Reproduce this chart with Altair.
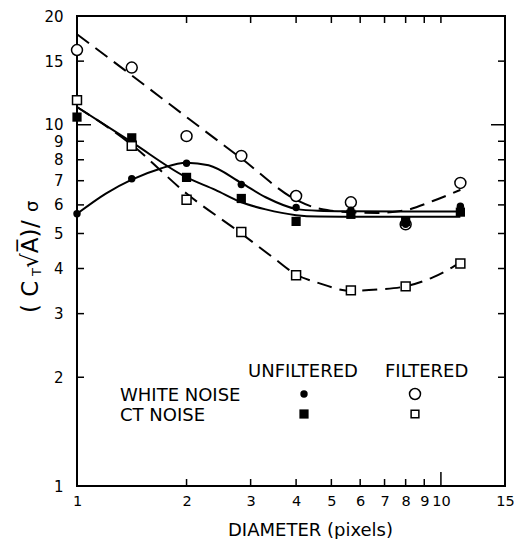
import altair as alt
import pandas as pd

# ---------------- data ----------------
diam = [1, 1.414, 2, 2.828, 4, 5.657, 8, 11.31]
white_unfiltered = [5.67, 7.09, 7.82, 6.83, 5.90, 5.80, 5.30, 5.95]
white_filtered = [16.1, 14.4, 9.3, 8.2, 6.35, 6.1, 5.3, 6.9]
ct_unfiltered = [10.5, 9.2, 7.15, 6.25, 5.4, 5.65, 5.4, 5.73]
ct_filtered = [11.7, 8.75, 6.2, 5.05, 3.83, 3.48, 3.57, 4.13]

# fitted curves
wu_fit_x = [1, 1.2, 1.414, 1.7, 2, 2.3, 2.828, 3.3, 4, 4.6, 5.657, 8, 11.31]
wu_fit_y = [5.67, 6.45, 7.05, 7.57, 7.85, 7.72, 6.9, 6.3, 5.85, 5.78, 5.76, 5.75, 5.75]
wf_fit_x = [1, 1.414, 2, 2.828, 4, 4.5, 5.0, 5.657, 6.7, 8, 9.5, 11.31]
wf_fit_y = [17.8, 13.7, 10.5, 8.07, 6.2, 5.9, 5.78, 5.72, 5.7, 5.8, 6.15, 6.6]
cu_fit_x = [1, 1.414, 2, 2.4, 2.828, 3.3, 4, 4.6, 5.657, 8, 11.31]
cu_fit_y = [11.2, 8.95, 7.15, 6.6, 6.1, 5.83, 5.62, 5.57, 5.56, 5.56, 5.56]
cf_fit_x = [1, 1.414, 2, 2.828, 3.5, 4, 4.6, 5.657, 6.7, 8, 9.5, 11.31]
cf_fit_y = [11.2, 8.8, 6.45, 5.0, 4.25, 3.85, 3.65, 3.47, 3.5, 3.57, 3.78, 4.15]

x_ticks = [1, 2, 3, 4, 5, 6, 7, 8, 9, 10, 15]
y_ticks = [1, 2, 3, 4, 5, 6, 7, 8, 9, 10, 15, 20]
x_minor_inner = [2, 3, 4, 5, 6, 7, 8, 9]
x_major_inner = [10]
y_minor_inner = [2, 3, 4, 5, 6, 7, 8, 9, 15]
y_major_inner = [10]

x_title = "DIAMETER (pixels)"
leg_cols = ["UNFILTERED", "FILTERED"]
leg_rows = ["WHITE NOISE", "CT NOISE"]

# ---------------- layout ----------------
W, H = 428, 470
FONT = "DejaVu Sans"

xs = alt.Scale(type="log", domain=[1, 15], nice=False)
ys = alt.Scale(type="log", domain=[1, 20], nice=False)
xaxis = alt.Axis(values=x_ticks, format="~g", ticks=False, domain=False, grid=False,
                 labelFont=FONT, labelFontSize=14.5, labelColor="black", labelPadding=8,
                 labelFlush=False, labelOverlap=False,
                 titleFont=FONT, titleFontSize=18, titleFontWeight="normal", titleColor="black",
                 titleX=233, titleY=49, titleBaseline="alphabetic", titleAlign="center")
yaxis = alt.Axis(values=y_ticks, format="~g", ticks=False, domain=False, grid=False,
                 labelFont=FONT, labelFontSize=15, labelColor="black", labelPadding=14,
                 labelFlush=False, labelOverlap=False, title=None)

X = alt.X("d:Q", scale=xs, axis=xaxis, title=x_title)
Y = alt.Y("v:Q", scale=ys, axis=yaxis)


def df(xv, yv):
    return pd.DataFrame({"d": xv, "v": yv})


def curve(xv, yv, dashed):
    kw = dict(color="black", strokeWidth=2, interpolate="monotone")
    if dashed:
        kw["strokeDash"] = [15, 8]
    return alt.Chart(df(xv, yv)).mark_line(**kw).encode(x=X, y=Y)


def pts(yv, shape, filled, size):
    if filled:
        m = alt.Chart(df(diam, yv)).mark_point(shape=shape, filled=True, color="black",
                                                size=size, opacity=1)
    else:
        m = alt.Chart(df(diam, yv)).mark_point(shape=shape, filled=True, fill="white",
                                                stroke="black", strokeWidth=1.5,
                                                size=size, opacity=1)
    return m.encode(x=X, y=Y)


one = pd.DataFrame({"k": [0]})

# plot frame
frame = alt.Chart(one).mark_rect(fill="white", stroke="black", strokeWidth=2).encode(
    x=alt.value(0), x2=alt.value(W), y=alt.value(0), y2=alt.value(H))

layers = [
    frame,
    curve(wu_fit_x, wu_fit_y, False),
    curve(cu_fit_x, cu_fit_y, False),
    curve(wf_fit_x, wf_fit_y, True),
    curve(cf_fit_x, cf_fit_y, True),
    pts(white_filtered, "circle", False, 120),
    pts(ct_filtered, "square", False, 80),
    pts(white_unfiltered, "circle", True, 55),
    pts(ct_unfiltered, "square", True, 85),
]

# inward ticks on all four sides
tick_kw = dict(color="black", strokeWidth=1.5)
xd_min = pd.DataFrame({"d": x_minor_inner})
xd_maj = pd.DataFrame({"d": x_major_inner})
yd_min = pd.DataFrame({"v": y_minor_inner})
yd_maj = pd.DataFrame({"v": y_major_inner})
for data, ln in [(xd_min, 7), (xd_maj, 14)]:
    layers.append(alt.Chart(data).mark_rule(**tick_kw).encode(
        x=X, y=alt.value(H), y2=alt.value(H - ln)))
    layers.append(alt.Chart(data).mark_rule(**tick_kw).encode(
        x=X, y=alt.value(0), y2=alt.value(7)))
for data, ln in [(yd_min, 7), (yd_maj, 14)]:
    layers.append(alt.Chart(data).mark_rule(**tick_kw).encode(
        y=Y, x=alt.value(0), x2=alt.value(ln)))
    layers.append(alt.Chart(data).mark_rule(**tick_kw).encode(
        y=Y, x=alt.value(W), x2=alt.value(W - ln)))


def txt(s, x, y, size=18, align="left", angle=0, baseline="alphabetic"):
    kw = dict(font=FONT, fontSize=size, align=align, baseline=baseline, color="black")
    if angle:
        kw["angle"] = angle
    return alt.Chart(one).mark_text(**kw).encode(
        x=alt.value(x), y=alt.value(y), text=alt.value(s))


OX, OY = 77, 16
# legend block
layers += [
    txt(leg_cols[0], 248 - OX, 377 - OY),
    txt(leg_cols[1], 385 - OX, 377 - OY),
    txt(leg_rows[0], 120 - OX, 401 - OY),
    txt(leg_rows[1], 120 - OX, 421 - OY),
]


def legpt(x, y, shape, filled, size):
    if filled:
        m = alt.Chart(one).mark_point(shape=shape, filled=True, color="black", size=size, opacity=1)
    else:
        m = alt.Chart(one).mark_point(shape=shape, filled=True, fill="white", stroke="black",
                                      strokeWidth=1.5, size=size, opacity=1)
    return m.encode(x=alt.value(x - OX), y=alt.value(y - OY))


layers += [
    legpt(304, 394, "circle", True, 55),
    legpt(415, 394, "circle", False, 120),
    legpt(304, 414, "square", True, 85),
    legpt(415, 414, "square", False, 60),
]

# y axis title built from pieces: (C_T sqrt(A)) / sigma
BX = 38 - OX
layers += [
    txt("( C", BX, 313 - OY, size=23, angle=270),
    txt("T", BX + 3, 276 - OY, size=13, angle=270),
    txt("\u221aA\u0305)", BX, 268 - OY, size=23, angle=270),
    txt("/", BX, 228 - OY, size=23, angle=270),
    txt("\u03c3", BX, 212 - OY, size=18, angle=270),
]

chart = alt.layer(*layers).properties(
    width=W, height=H, background="white",
    autosize=alt.AutoSizeParams(type="none"),
    padding={"left": OX, "top": OY, "right": 514 - OX - W, "bottom": 539 - OY - H},
).configure_view(stroke=None)

chart.save("out.html", embed_options={"renderer": "svg", "actions": False})
